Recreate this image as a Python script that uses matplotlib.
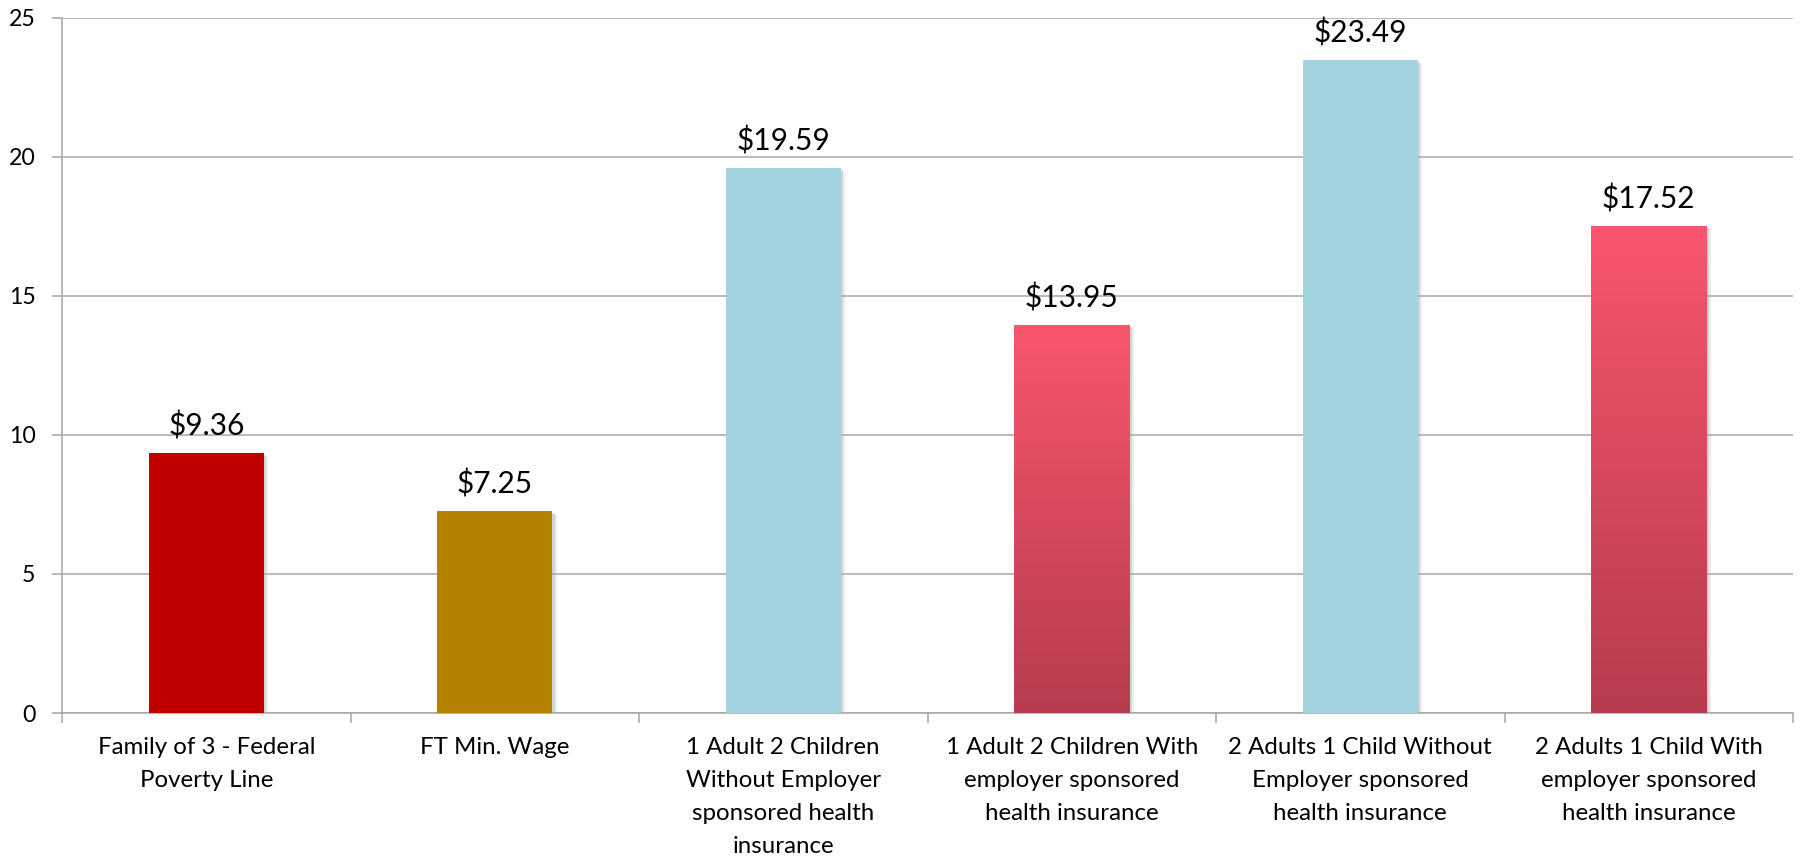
import numpy as np
import matplotlib
matplotlib.use("Agg")
import matplotlib.pyplot as plt
import matplotlib.patheffects as pe
from matplotlib.colors import LinearSegmentedColormap

plt.rcParams['font.family'] = ['Lato', 'DejaVu Sans']

categories = [
    "Family of 3 - Federal\nPoverty Line",
    "FT Min. Wage",
    "1 Adult 2 Children\nWithout Employer\nsponsored health\ninsurance",
    "1 Adult 2 Children With\nemployer sponsored\nhealth insurance",
    "2 Adults 1 Child Without\nEmployer sponsored\nhealth insurance",
    "2 Adults 1 Child With\nemployer sponsored\nhealth insurance",
]
wages = [9.36, 7.25, 19.59, 13.95, 23.49, 17.52]
value_labels = ["$9.36", "$7.25", "$19.59", "$13.95", "$23.49", "$17.52"]
fill_styles = ["solid", "solid", "solid", "gradient", "solid", "gradient"]
bar_colors = ["#C00000", "#B58200", "#A2D4E0", "#F7566E", "#A2D4E0", "#F7566E"]
gradient_top, gradient_bottom = "#F8566E", "#B73C4F"
y_ticks = [0, 5, 10, 15, 20, 25]

fig = plt.figure(figsize=(18, 8.56), dpi=100)
ax = fig.add_axes([62 / 1800, 1 - 713 / 856, (1793 - 62) / 1800, (713 - 17.7) / 856])

x = np.arange(len(categories))
# soft drop shadow built from a few stacked translucent offsets
shadow = [
    pe.SimplePatchShadow(offset=(3.0, -2.5), shadow_rgbFace="#bbbbbb", alpha=0.25),
    pe.SimplePatchShadow(offset=(1.8, -1.5), shadow_rgbFace="#999999", alpha=0.3),
    pe.Normal(),
]
bars = ax.bar(x, wages, width=0.40, color=bar_colors, zorder=3, path_effects=shadow)

grad_cmap = LinearSegmentedColormap.from_list("grad", [gradient_bottom, gradient_top])
for bar, style in zip(bars, fill_styles):
    if style == "gradient":
        x0, w, h = bar.get_x(), bar.get_width(), bar.get_height()
        img = ax.imshow(np.linspace(0, 1, 256).reshape(-1, 1), cmap=grad_cmap,
                        extent=[x0, x0 + w, 0, h], origin="lower", aspect="auto", zorder=4)
        img.set_clip_path(bar)

for xi, v, lab in zip(x, wages, value_labels):
    ax.annotate(lab, (xi, v), xytext=(0, 9), textcoords="offset points",
                ha="center", va="bottom", fontsize=21.5, color="#000000", zorder=5)

ax.set_xlim(-0.5, len(categories) - 0.5)
ax.set_ylim(0, 25)
ax.set_yticks(y_ticks)
ax.set_yticklabels([str(t) for t in y_ticks], fontsize=16.7)
ax.yaxis.grid(True, color="#A6A6A6", linewidth=1.1, zorder=0)
ax.set_axisbelow(True)

ax.set_xticks(x)
ax.set_xticklabels(categories, fontsize=17.3, linespacing=1.72, va="top")
ax.set_xticks(np.arange(-0.5, len(categories)), minor=True)
ax.tick_params(axis="x", which="major", length=0, pad=17)
ax.tick_params(axis="x", which="minor", length=7, width=1.1, color="#A6A6A6", direction="out")
ax.tick_params(axis="y", length=7, width=1.1, color="#A6A6A6", direction="out", pad=12)

for side in ["top", "right"]:
    ax.spines[side].set_visible(False)
for side in ["left", "bottom"]:
    ax.spines[side].set_color("#A6A6A6")
    ax.spines[side].set_linewidth(1.1)

fig.savefig("out.png", dpi=100, facecolor="white")
